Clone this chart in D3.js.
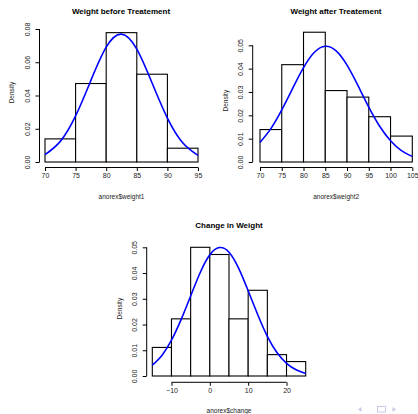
<!DOCTYPE html>
<html>
<head>
<meta charset="utf-8">
<script src="https://cdn.jsdelivr.net/npm/d3@7"></script>
<style>
  body { margin: 0; background: #fff; }
  svg { display: block; font-family: "Liberation Sans", Arial, sans-serif; }
</style>
</head>
<body>
<svg width="418" height="414"></svg>
<script>
// histogram densities (bin width 5)
const beforeBins = [70, 75, 80, 85, 90, 95];
const beforeDensity = [0.0139, 0.0472, 0.0778, 0.0528, 0.0083];
const beforeCurveX = [70, 72.5, 75, 77.5, 80, 82.5, 85, 87.5, 90, 92.5, 95];
const beforeCurveY = [0.0044, 0.0124, 0.0277, 0.0491, 0.0691, 0.0769, 0.0679, 0.0475, 0.0264, 0.0116, 0.0040];
const beforeXTicks = [70, 75, 80, 85, 90, 95];
const beforeYTicks = [0, 0.02, 0.04, 0.06, 0.08];

const afterBins = [70, 75, 80, 85, 90, 95, 100, 105];
const afterDensity = [0.0139, 0.0417, 0.0556, 0.0306, 0.0278, 0.0194, 0.0111];
const afterCurveX = [70, 72.5, 75, 77.5, 80, 82.5, 85, 87.5, 90, 92.5, 95, 97.5, 100, 102.5, 105];
const afterCurveY = [0.0084, 0.0143, 0.0223, 0.0315, 0.0404, 0.0470, 0.0496, 0.0476, 0.0415, 0.0328, 0.0235, 0.0153, 0.0091, 0.0049, 0.0024];
const afterXTicks = [70, 75, 80, 85, 90, 95, 100, 105];
const afterYTicks = [0, 0.01, 0.02, 0.03, 0.04, 0.05];

const changeBins = [-15, -10, -5, 0, 5, 10, 15, 20, 25];
const changeDensity = [0.0111, 0.0222, 0.05, 0.0472, 0.0222, 0.0333, 0.0083, 0.0056];
const changeCurveX = [-15, -12.5, -10, -7.5, -5, -2.5, 0, 2.5, 5, 7.5, 10, 12.5, 15, 17.5, 20, 22.5, 25];
const changeCurveY = [0.0042, 0.0080, 0.0139, 0.0219, 0.0311, 0.0402, 0.0471, 0.0499, 0.0481, 0.0419, 0.0331, 0.0238, 0.0154, 0.0091, 0.0049, 0.0024, 0.0010];
const changeXTicks = [-10, 0, 10, 20];
const changeYTicks = [0, 0.01, 0.02, 0.03, 0.04, 0.05];

const svg = d3.select("svg");

function drawHist(cfg) {
  const g = svg.append("g");
  const x = d3.scaleLinear().domain(cfg.xDomain).range(cfg.xRange);
  const y = d3.scaleLinear().domain(cfg.yDomain).range(cfg.yRange);

  // bars
  const bars = cfg.density.map((d, i) => ({x0: cfg.bins[i], x1: cfg.bins[i + 1], v: d}));
  g.selectAll("rect.bar")
    .data(bars)
    .join("rect")
    .attr("class", "bar")
    .attr("x", d => x(d.x0))
    .attr("y", d => y(d.v))
    .attr("width", d => x(d.x1) - x(d.x0))
    .attr("height", d => y(0) - y(d.v))
    .attr("fill", "#fff")
    .attr("stroke", "#000")
    .attr("stroke-width", 1.1);

  // normal curve
  const pts = cfg.curveX.map((cx, i) => [cx, cfg.curveY[i]]);
  g.append("path")
    .datum(pts)
    .attr("fill", "none")
    .attr("stroke", "#0000ff")
    .attr("stroke-width", 1.6)
    .attr("d", d3.line().x(d => x(d[0])).y(d => y(d[1])).curve(d3.curveNatural));

  // x axis
  const xa = g.append("g").attr("transform", `translate(0,${cfg.xAxisY})`)
    .call(d3.axisBottom(x).tickValues(cfg.xTicks).tickSize(3.5).tickPadding(2.5).tickFormat(d => d < 0 ? "\u2212" + (-d) : d));
  xa.select(".domain").attr("d", `M${x(cfg.xTicks[0])},0H${x(cfg.xTicks[cfg.xTicks.length - 1])}`);
  xa.selectAll("text").attr("font-size", 7).attr("fill", "#222").attr("font-family", "Liberation Sans, Arial, sans-serif");

  // y axis
  const ya = g.append("g").attr("transform", `translate(${cfg.yAxisX},0)`)
    .call(d3.axisLeft(y).tickValues(cfg.yTicks).tickSize(4).tickFormat(d3.format(".2f")));
  ya.select(".domain").attr("d", `M0,${y(cfg.yTicks[0])}V${y(cfg.yTicks[cfg.yTicks.length - 1])}`);
  ya.selectAll("text")
    .attr("font-size", 7).attr("fill", "#222").attr("font-family", "Liberation Sans, Arial, sans-serif")
    .attr("x", null).attr("dy", null)
    .attr("text-anchor", "middle")
    .attr("transform", `translate(-10,0) rotate(-90)`);

  // titles
  svg.append("text")
    .attr("x", cfg.titleX).attr("y", cfg.titleY)
    .attr("text-anchor", "middle")
    .attr("font-weight", "bold").attr("font-size", 8)
    .text(cfg.title);
  svg.append("text")
    .attr("x", (cfg.xRange[0] + cfg.xRange[1]) / 2).attr("y", cfg.xLabelY)
    .attr("text-anchor", "middle")
    .attr("font-size", 6.5).attr("fill", "#222")
    .text(cfg.xLabel);
  svg.append("text")
    .attr("transform", `translate(${cfg.yLabelX},${(cfg.yRange[0] + cfg.yRange[1]) / 2 - 3}) rotate(-90)`)
    .attr("text-anchor", "middle")
    .attr("font-size", 6.5).attr("fill", "#222")
    .text("Density");
}

drawHist({
  bins: beforeBins, density: beforeDensity, curveX: beforeCurveX, curveY: beforeCurveY,
  xTicks: beforeXTicks, yTicks: beforeYTicks,
  xDomain: [70, 95], xRange: [45, 198], yDomain: [0, 0.08], yRange: [162, 29],
  xAxisY: 167.5, yAxisX: 39.5, titleX: 121, titleY: 14,
  xLabel: "anorex$weight1", xLabelY: 199, yLabelX: 13.8,
  title: "Weight before Treatement"
});

drawHist({
  bins: afterBins, density: afterDensity, curveX: afterCurveX, curveY: afterCurveY,
  xTicks: afterXTicks, yTicks: afterYTicks,
  xDomain: [70, 105], xRange: [260, 412.3], yDomain: [0, 0.05], yRange: [162, 45.3],
  xAxisY: 167.5, yAxisX: 252.7, titleX: 336, titleY: 14,
  xLabel: "anorex$weight2", xLabelY: 199, yLabelX: 228,
  title: "Weight after Treatement"
});

drawHist({
  bins: changeBins, density: changeDensity, curveX: changeCurveX, curveY: changeCurveY,
  xTicks: changeXTicks, yTicks: changeYTicks,
  xDomain: [-15, 25], xRange: [152.3, 305.7], yDomain: [0, 0.05], yRange: [376, 247.3],
  xAxisY: 382.3, yAxisX: 146.7, titleX: 229, titleY: 228,
  xLabel: "anorex$change", xLabelY: 413, yLabelX: 121.5,
  title: "Change in Weight"
});

// beamer navigation symbols
const nav = svg.append("g").attr("fill", "#c9cbe6").attr("stroke", "#c9cbe6");
nav.append("path").attr("d", "M358,409.5L361.5,407V412Z").attr("stroke", "none");
nav.append("rect").attr("x", 377.5).attr("y", 406.5).attr("width", 8).attr("height", 5.5)
  .attr("fill", "none").attr("stroke-width", 1);
nav.append("path").attr("d", "M396,409.5L392.5,407V412Z").attr("stroke", "none");
</script>
</body>
</html>
